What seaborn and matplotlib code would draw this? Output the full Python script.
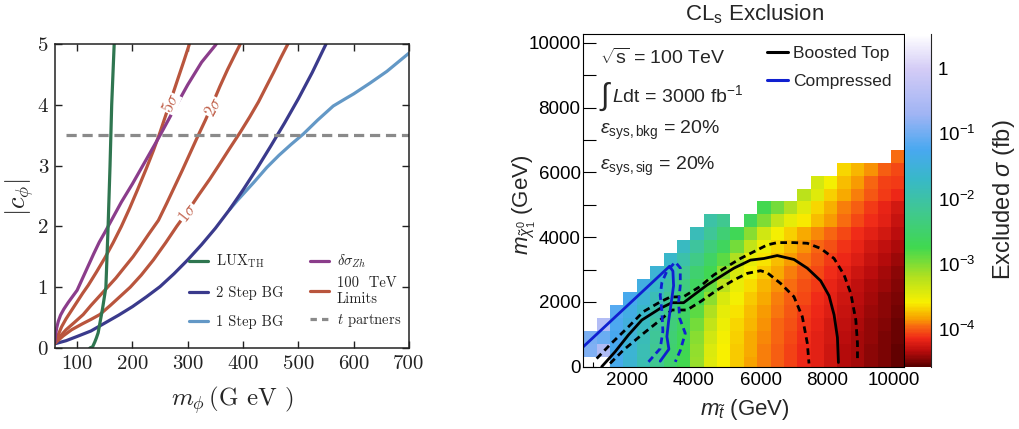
import numpy as np
import matplotlib
matplotlib.use("Agg")
import matplotlib.pyplot as plt
import seaborn as sns
from matplotlib.colors import LinearSegmentedColormap, LogNorm
from matplotlib.lines import Line2D
from matplotlib.ticker import MultipleLocator, FuncFormatter, LogLocator, NullFormatter

# ---------------- left panel data ----------------
lux_m = [123, 128, 132, 135, 138, 141, 146, 152, 154, 156, 159.5, 162.5, 167]
lux_c = [0.0, 0.02, 0.1, 0.17, 0.25, 0.4, 0.65, 1.0, 1.5, 2.0, 3.0, 4.0, 5.0]

bg2_m = [60, 80, 100, 125, 150, 175, 200, 225, 250, 275, 300, 325, 350, 375, 400, 425, 450, 475, 500, 525, 550]
bg2_c = [0.07, 0.12, 0.19, 0.28, 0.41, 0.54, 0.68, 0.84, 1.01, 1.22, 1.45, 1.7, 1.97, 2.27, 2.6, 2.95, 3.32, 3.7, 4.1, 4.53, 5.0]

bg1_m = [376, 390, 405, 420, 443, 465, 487, 509, 535, 563, 585, 600, 630, 660, 700]
bg1_c = [2.28, 2.43, 2.58, 2.73, 2.97, 3.17, 3.35, 3.52, 3.75, 3.98, 4.1, 4.18, 4.36, 4.55, 4.85]

zh_m = [60, 61, 63, 66, 70, 76, 84, 92, 100, 110, 120, 130, 140, 150, 165, 180, 200, 225, 250, 275, 300, 325, 350, 355]
zh_c = [0.1, 0.22, 0.33, 0.44, 0.54, 0.64, 0.75, 0.85, 0.95, 1.15, 1.35, 1.55, 1.74, 1.9, 2.15, 2.4, 2.7, 3.1, 3.5, 3.92, 4.33, 4.7, 4.98, 5.05]

s5_m = [60, 65, 72, 80, 90, 100, 110, 120, 135, 150, 165, 180, 195, 210, 225, 238, 250, 261, 272, 283, 293, 303]
s5_c = [0.08, 0.2, 0.35, 0.48, 0.62, 0.76, 0.9, 1.03, 1.25, 1.48, 1.73, 2.0, 2.3, 2.62, 2.95, 3.25, 3.55, 3.85, 4.15, 4.45, 4.72, 5.0]

s2_m = [60, 70, 80, 95, 111, 125, 140, 155, 170, 185, 201, 215, 230, 247, 262, 276, 290, 304, 318, 332, 345, 358, 372, 384, 395]
s2_c = [0.08, 0.2, 0.3, 0.42, 0.55, 0.7, 0.85, 1.0, 1.15, 1.32, 1.5, 1.68, 1.88, 2.1, 2.38, 2.65, 2.92, 3.2, 3.48, 3.75, 4.02, 4.3, 4.58, 4.8, 5.0]

s1_m = [60, 75, 90, 110, 125, 141, 160, 178, 196, 216, 238, 260, 280, 300, 320, 340, 358, 377, 395, 412, 428, 442, 455, 468, 481]
s1_c = [0.08, 0.2, 0.3, 0.4, 0.47, 0.55, 0.7, 0.85, 1.0, 1.2, 1.45, 1.73, 2.0, 2.25, 2.52, 2.78, 3.03, 3.3, 3.55, 3.8, 4.05, 4.3, 4.53, 4.77, 5.0]

tpart_m = [80, 700]
tpart_c = [3.5, 3.5]

# ---------------- right panel data ----------------
stop_mass = [900, 1300, 1700, 2100, 2500, 2900, 3300, 3700, 4100, 4500, 4900, 5300,
             5700, 6100, 6500, 6900, 7300, 7700, 8100, 8500, 8900, 9300, 9700, 10100]
lsp_mass = [100, 500, 900, 1300, 1700, 2100, 2500, 2900, 3300, 3700, 4100, 4500,
            4900, 5300, 5700, 6100, 6500]
n = np.nan
# log10 of excluded cross section (fb); rows = lsp_mass, cols = stop_mass
log_xsec = [
    [n, n, -1.30, -1.60, -1.90, -2.20, -2.50, -2.75, -3.10, -3.45, -3.60, -3.72, -3.83, -3.92, -4.00, -4.07, -4.15, -4.20, -4.28, -4.35, -4.40, -4.45, -4.50, -4.55],
    [-0.90, -0.50, -1.29, -1.58, -1.88, -2.18, -2.48, -2.73, -3.08, -3.43, -3.59, -3.71, -3.82, -3.91, -4.00, -4.07, -4.15, -4.20, -4.28, -4.35, -4.40, -4.45, -4.50, -4.55],
    [-0.95, -1.05, -1.26, -1.54, -1.84, -2.14, -2.44, -2.70, -3.03, -3.38, -3.57, -3.70, -3.81, -3.90, -3.98, -4.06, -4.13, -4.19, -4.26, -4.34, -4.39, -4.44, -4.49, -4.54],
    [n, -0.45, -1.22, -1.47, -1.77, -2.07, -2.37, -2.64, -2.95, -3.30, -3.54, -3.67, -3.78, -3.88, -3.97, -4.03, -4.12, -4.18, -4.25, -4.32, -4.38, -4.43, -4.48, -4.53],
    [n, n, -1.16, -1.38, -1.68, -1.98, -2.28, -2.57, -2.85, -3.20, -3.49, -3.63, -3.75, -3.86, -3.94, -4.02, -4.09, -4.16, -4.22, -4.30, -4.36, -4.41, -4.46, -4.51],
    [n, n, n, -1.28, -1.57, -1.87, -2.17, -2.47, -2.72, -3.06, -3.41, -3.58, -3.71, -3.82, -3.91, -3.99, -4.06, -4.14, -4.20, -4.27, -4.34, -4.40, -4.45, -4.50],
    [n, n, n, n, -1.43, -1.73, -2.03, -2.33, -2.61, -2.90, -3.25, -3.52, -3.65, -3.77, -3.87, -3.95, -4.03, -4.10, -4.17, -4.23, -4.31, -4.37, -4.42, -4.47],
    [n, n, n, n, n, -1.57, -1.87, -2.17, -2.47, -2.72, -3.06, -3.41, -3.58, -3.71, -3.82, -3.91, -3.99, -4.06, -4.14, -4.20, -4.27, -4.34, -4.40, -4.45],
    [n, n, n, n, n, n, -1.68, -1.98, -2.28, -2.57, -2.85, -3.20, -3.49, -3.63, -3.75, -3.86, -3.94, -4.02, -4.09, -4.16, -4.22, -4.30, -4.36, -4.41],
    [n, n, n, n, n, n, n, -1.77, -2.07, -2.37, -2.64, -2.95, -3.30, -3.54, -3.67, -3.78, -3.88, -3.97, -4.03, -4.12, -4.18, -4.25, -4.32, -4.38],
    [n, n, n, n, n, n, n, n, -1.84, -2.14, -2.44, -2.70, -3.03, -3.38, -3.57, -3.70, -3.81, -3.90, -3.98, -4.06, -4.13, -4.19, -4.26, -4.34],
    [n, n, n, n, n, n, n, n, n, -2.00, -2.20, n, -2.65, -3.00, -3.30, -3.50, -3.62, -3.75, -3.86, -3.95, -4.05, -4.13, -4.20, -4.30],
    [n, n, n, n, n, n, n, n, n, n, n, n, n, -2.75, -2.95, -3.20, -3.45, -3.68, -3.80, -3.92, -4.00, -4.10, -4.18, -4.25],
    [n, n, n, n, n, n, n, n, n, n, n, n, n, n, n, n, -3.25, -3.45, -3.70, -3.82, -3.92, -4.02, -4.10, -4.15],
    [n, n, n, n, n, n, n, n, n, n, n, n, n, n, n, n, n, -3.40, -3.58, -3.75, -3.85, -3.98, -4.08, -4.10],
    [n, n, n, n, n, n, n, n, n, n, n, n, n, n, n, n, n, n, n, -3.68, -3.78, -3.88, -4.00, -4.05],
    [n, n, n, n, n, n, n, n, n, n, n, n, n, n, n, n, n, n, n, n, n, n, n, -3.95],
]

boost_x = [1250, 1650, 2050, 2450, 3000, 3350, 3700, 4000, 4400, 4800, 5200, 5700, 6100, 6500, 7000, 7400, 7800, 8050, 8200, 8300, 8330]
boost_y = [0, 460, 980, 1440, 1800, 1975, 1975, 2210, 2520, 2780, 3040, 3290, 3340, 3430, 3310, 3040, 2650, 2190, 1600, 900, 130]

boost_up_x = [1100, 1500, 2000, 2500, 3000, 3300, 3700, 4200, 4600, 5000, 5400, 5800, 6200, 6500, 7000, 7400, 7800, 8200, 8500, 8700, 8850, 8900, 8900]
boost_up_y = [250, 680, 1180, 1700, 2000, 2150, 2160, 2480, 2830, 3090, 3340, 3550, 3760, 3830, 3830, 3810, 3650, 3340, 2830, 2260, 1440, 720, 150]

boost_dn_x = [1500, 1900, 2500, 3000, 3350, 3800, 4200, 4700, 5200, 5600, 6000, 6200, 6600, 7000, 7250, 7400, 7450]
boost_dn_y = [100, 514, 1028, 1440, 1750, 1750, 2006, 2366, 2675, 2880, 2963, 2901, 2571, 2160, 1543, 720, 100]

comp_x = [600, 3280, 3380, 3400, 3320, 3250, 3200, 3260, 3000]
comp_y = [520, 3100, 2950, 2500, 1900, 1400, 930, 540, 170]

comp_band_x = [2650, 3000, 3080, 3050, 3000, 3050, 3200, 3450, 3600, 3600, 3550, 3580, 3750, 3600, 3450]
comp_band_y = [150, 560, 1100, 1700, 2200, 2600, 2950, 3230, 3050, 2500, 2000, 1500, 1030, 500, 150]

# ---------------- style ----------------
sns.set_theme(style="ticks")
plt.rcParams["font.family"] = ["Liberation Sans", "DejaVu Sans"]
plt.rcParams["mathtext.fontset"] = "custom"
plt.rcParams["mathtext.rm"] = "Liberation Sans"
plt.rcParams["mathtext.it"] = "Liberation Sans:italic"
plt.rcParams["mathtext.bf"] = "Liberation Sans:bold"
plt.rcParams["mathtext.sf"] = "Liberation Sans"

W, H = 1019, 429
fig = plt.figure(figsize=(W / 100, H / 100), dpi=100)
fig.patch.set_facecolor("white")

def fx(px):
    return px / W

def fy(py):
    return 1 - py / H

# ================= LEFT PANEL =================
axL = fig.add_axes([fx(55), fy(348), fx(409) - fx(55), fy(44) - fy(348)])
axL.set_facecolor("white")
LW = 2.3
c_lux, c_bg2, c_bg1 = "#2f7650", "#3a3a8c", "#6398c6"
c_zh, c_red, c_grey = "#8b3d8b", "#b9553d", "#8a8a8a"

sns.lineplot(x=bg1_m, y=bg1_c, sort=False, estimator=None, color=c_bg1, lw=LW, ax=axL)
sns.lineplot(x=bg2_m, y=bg2_c, sort=False, estimator=None, color=c_bg2, lw=LW, ax=axL)
for mm, cc in [(s5_m, s5_c), (s2_m, s2_c), (s1_m, s1_c)]:
    sns.lineplot(x=mm, y=cc, sort=False, estimator=None, color=c_red, lw=LW, ax=axL)
sns.lineplot(x=zh_m, y=zh_c, sort=False, estimator=None, color=c_zh, lw=LW, ax=axL)
sns.lineplot(x=lux_m, y=lux_c, sort=False, estimator=None, color=c_lux, lw=LW, ax=axL)
sns.lineplot(x=tpart_m, y=tpart_c, sort=False, estimator=None, color=c_grey, lw=LW,
             linestyle=(0, (3.2, 1.8)), ax=axL)

axL.set_xlim(60, 700)
axL.set_ylim(0, 5)
axL.xaxis.set_major_locator(MultipleLocator(100))
axL.yaxis.set_major_locator(MultipleLocator(1))
axL.tick_params(direction="in", length=5, width=1, top=True, right=True,
                labelsize=15, pad=5, labelfontfamily="cmr10", colors="#222222")
for sp in axL.spines.values():
    sp.set_visible(True)
    sp.set_linewidth(1.1)
    sp.set_color("#222222")
axL.set_xlabel("")
axL.set_ylabel("")

# contour labels
for txt, mx, cy, rot in [("5$\\sigma$", 268, 4.03, 65), ("2$\\sigma$", 346, 3.96, 62),
                         ("1$\\sigma$", 300, 2.22, 52)]:
    axL.text(mx, cy, txt, color="#c0604a", fontsize=12, rotation=rot, ha="center",
             va="center", family="cmr10", math_fontfamily="cm",
             bbox=dict(facecolor="white", edgecolor="none", pad=0.2))

leg_kw = dict(loc="upper left", frameon=False, prop={"family": "cmr10", "size": 10.5},
              handlelength=1.3, handletextpad=0.55, borderpad=0, borderaxespad=0)
h1 = [Line2D([], [], color=c_lux, lw=LW), Line2D([], [], color=c_bg2, lw=LW),
      Line2D([], [], color=c_bg1, lw=LW)]
l1 = [r"LUX$_{\rm TH}$", "2 Step BG", "1 Step BG"]
h2 = [Line2D([], [], color=c_zh, lw=LW), Line2D([], [], color=c_red, lw=LW),
      Line2D([], [], color=c_grey, lw=LW, linestyle=(0, (2, 1.6)))]
l2 = [r"$\delta\sigma_{Zh}$", "100  TeV\nLimits", r"$t$ partners"]
leg1 = axL.legend(h1, l1, bbox_to_anchor=(0.378, 0.313), labelspacing=1.05, **leg_kw)
axL.add_artist(leg1)
leg2 = axL.legend(h2, l2, bbox_to_anchor=(0.72, 0.313), labelspacing=0.42, **leg_kw)
for lg in (leg1, leg2):
    for t in lg.get_texts():
        t.set_math_fontfamily("cm")

fig.text(fx(232), fy(400), r"$m_\phi\,$(G eV )", ha="center", va="center", fontsize=18,
         family="cmr10", math_fontfamily="cm")
fig.text(fx(20), fy(197), r"$|c_\phi|$", ha="center", va="center", fontsize=19,
         rotation=90, math_fontfamily="cm")

# ================= RIGHT PANEL =================
axR = fig.add_axes([fx(583.3), fy(366.7), fx(904.3) - fx(583.3), fy(34.3) - fy(366.7)])
axR.set_facecolor("white")

log_stops = [-4.58, -4.35, -4.15, -3.95, -3.85, -3.6, -3.2, -2.75, -2.2, -1.7, -1.25, -0.7, 0.0, 0.52]
stop_cols = ["#5a0000", "#b80c0c", "#f02818", "#f87010", "#f8a000", "#f8f000", "#b0e020",
             "#40d850", "#40c890", "#38b8c8", "#48a8f0", "#a0b4f4", "#d4ccf6", "#ffffff"]
lo, hi = log_stops[0], log_stops[-1]
cmap = LinearSegmentedColormap.from_list(
    "excl", [((v - lo) / (hi - lo), c) for v, c in zip(log_stops, stop_cols)])

xs = np.asarray(stop_mass, float)
ys = np.asarray(lsp_mass, float)
xe = np.append(xs - 200, xs[-1] + 200)
ye = np.append(ys - 200, ys[-1] + 200)
Z = np.ma.masked_invalid(10 ** np.asarray(log_xsec, float))
mesh = axR.pcolormesh(xe, ye, Z, cmap=cmap, norm=LogNorm(vmin=10 ** lo, vmax=10 ** hi),
                      shading="flat")

BLW = 2.0
dash = (0, (2.4, 1.6))
sns.lineplot(x=boost_up_x, y=boost_up_y, sort=False, estimator=None, color="black", lw=BLW,
             linestyle=dash, ax=axR)
sns.lineplot(x=boost_dn_x, y=boost_dn_y, sort=False, estimator=None, color="black", lw=BLW,
             linestyle=dash, ax=axR)
sns.lineplot(x=boost_x, y=boost_y, sort=False, estimator=None, color="black", lw=BLW, ax=axR)
sns.lineplot(x=comp_band_x, y=comp_band_y, sort=False, estimator=None, color="#1020d0", lw=BLW,
             linestyle=dash, ax=axR)
sns.lineplot(x=comp_x, y=comp_y, sort=False, estimator=None, color="#1020d0", lw=BLW, ax=axR)

axR.set_xlim(700, 10300)
axR.set_ylim(0, 10260)
axR.xaxis.set_major_locator(MultipleLocator(2000))
axR.xaxis.set_minor_locator(MultipleLocator(500))
axR.yaxis.set_major_locator(MultipleLocator(2000))
axR.yaxis.set_minor_locator(MultipleLocator(1000))
axR.tick_params(which="both", direction="in", top=False, right=False, colors="black",
                width=0.8)
axR.tick_params(axis="x", which="major", length=7, labelsize=13.5, pad=4)
axR.tick_params(axis="x", which="minor", length=3.5)
axR.tick_params(axis="y", which="major", length=9, labelsize=13.5, pad=2)
axR.tick_params(axis="y", which="minor", length=9)
for sp in axR.spines.values():
    sp.set_visible(True)
    sp.set_linewidth(0.8)
    sp.set_color("black")
axR.set_xlabel("")
axR.set_ylabel("")

axR.text(0.052, 0.929, r"$\sqrt{\mathrm{s}}$ = 100 TeV", transform=axR.transAxes,
         ha="left", va="center", fontsize=14)
axR.text(0.050, 0.812, r"$\int$", transform=axR.transAxes, ha="left", va="center",
         fontsize=22)
axR.text(0.090, 0.817, r"$L$dt = 3000 fb$^{\mathrm{-1}}$", transform=axR.transAxes,
         ha="left", va="center", fontsize=14)
axR.text(0.052, 0.712, r"$\varepsilon_{\mathrm{sys,bkg}}$ = 20%", transform=axR.transAxes,
         ha="left", va="center", fontsize=14)
axR.text(0.052, 0.604, r"$\varepsilon_{\mathrm{sys,sig}}$ = 20%", transform=axR.transAxes,
         ha="left", va="center", fontsize=14)

hR = [Line2D([], [], color="black", lw=2.2), Line2D([], [], color="#1020d0", lw=2.2)]
legR = axR.legend(hR, ["Boosted Top", "Compressed"], loc="upper left",
                  bbox_to_anchor=(0.573, 0.965), frameon=False, fontsize=12.5,
                  handlelength=1.2, handletextpad=0.3, labelspacing=0.75, borderpad=0,
                  borderaxespad=0)

cax = fig.add_axes([fx(905), fy(366.7), fx(931) - fx(905), fy(34.3) - fy(366.7)])
cb = fig.colorbar(mesh, cax=cax)
cb.outline.set_visible(False)
cax.spines["right"].set_visible(True)
cax.spines["right"].set_linewidth(0.8)
cax.yaxis.set_major_locator(LogLocator(base=10))
cax.yaxis.set_minor_locator(LogLocator(base=10, subs=np.arange(2, 10)))
cax.yaxis.set_minor_formatter(NullFormatter())
cax.yaxis.set_major_formatter(FuncFormatter(
    lambda v, p: "1" if abs(v - 1) < 1e-9 else r"$10^{%d}$" % int(round(np.log10(v)))))
cax.tick_params(which="both", direction="in", right=True, left=False, colors="black", width=0.8)
cax.tick_params(which="major", length=8, labelsize=13.5, pad=5)
cax.tick_params(which="minor", length=4.5)

fig.text(fx(754), fy(14), r"CL$_{\mathrm{s}}$ Exclusion", ha="center", va="center", fontsize=16)
fig.text(fx(745), fy(410), r"$m_{\tilde{t}}$ (GeV)", ha="center", va="center", fontsize=16)
fig.text(fx(524), fy(205), r"$m_{\tilde{\chi}_1^0}$ (GeV)", ha="center", va="center",
         fontsize=16, rotation=90)
fig.text(fx(1004), fy(200), r"Excluded $\sigma$ (fb)", ha="center", va="center",
         fontsize=17, rotation=90)

fig.savefig("out.png", dpi=100, facecolor="white")
